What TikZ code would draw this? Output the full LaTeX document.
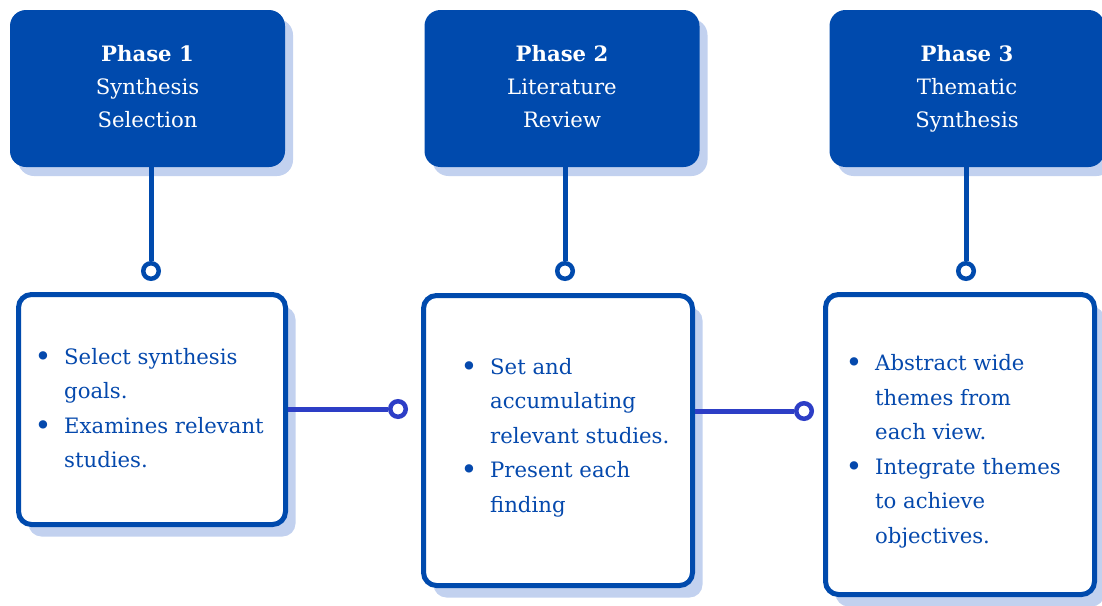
\documentclass[tikz,border=0pt]{standalone}
\usepackage{fontspec}
\setmainfont{DejaVu Serif}
\usetikzlibrary{shadows}
\definecolor{dblue}{HTML}{004AAD}
\definecolor{shblue}{HTML}{C2D1EF}
\definecolor{vblue}{HTML}{2D3EC6}
\definecolor{tblue}{HTML}{0549AD}
\newcommand{\bul}{\makebox[27pt][l]{\hspace*{-2.5pt}\raisebox{-2pt}{\scalebox{1.35}{•}}}}
\newcommand{\ind}{\hspace*{27pt}}
\begin{document}
\begin{tikzpicture}[x=1pt,y=-1pt,
  phasebox/.style={fill=dblue, rounded corners=16pt, minimum width=275pt,
    minimum height=157pt, inner sep=0pt,
    drop shadow={shadow xshift=8pt, shadow yshift=-9pt, opacity=1, fill=shblue}},
  listbox/.style={draw=dblue, line width=5pt, fill=white, rounded corners=13pt,
    inner sep=0pt,
    drop shadow={shadow xshift=10pt, shadow yshift=-12pt, opacity=1, fill=shblue}},
  phasetext/.style={anchor=base, inner sep=0pt, text=white,
    font=\fontsize{21.2}{33}\selectfont},
  listtext/.style={anchor=base west, inner sep=0pt, text=tblue,
    font=\fontsize{21.2}{34.6}\selectfont},
  link/.style={draw=dblue, line width=5pt},
  hlink/.style={draw=vblue, line width=5pt},
  dot/.style={circle, draw=dblue, fill=white, line width=4.5pt, minimum size=15.5pt, inner sep=0pt},
  hdot/.style={circle, draw=vblue, fill=white, line width=4.5pt, minimum size=15.5pt, inner sep=0pt}
]
\useasboundingbox (0,0) rectangle (1102,605);

% top phase boxes
\node[phasebox] (p1) at (147.5,88.5) {};
\node[phasebox] (p2) at (562,88.5) {};
\node[phasebox] (p3) at (967,88.5) {};

\node[phasetext] (p1t) at (147.5,61) {\begin{tabular}[t]{@{}c@{}}\textbf{Phase 1}\\Synthesis\\Selection\end{tabular}};
\node[phasetext] (p2t) at (562,61) {\begin{tabular}[t]{@{}c@{}}\textbf{Phase 2}\\Literature\\Review\end{tabular}};
\node[phasetext] (p3t) at (967,61) {\begin{tabular}[t]{@{}c@{}}\textbf{Phase 3}\\Thematic\\Synthesis\end{tabular}};

% list boxes
\node[listbox, minimum width=267pt, minimum height=230pt] (b1) at (152,409.5) {};
\node[listbox, minimum width=269pt, minimum height=290pt] (b2) at (558,440.5) {};
\node[listbox, minimum width=269pt, minimum height=300pt] (b3) at (960,444.5) {};

\node[listtext] (b1t) at (37,364) {\begin{tabular}[t]{@{}l@{}}\bul Select synthesis\\\ind goals.\\\bul Examines relevant\\\ind studies.\end{tabular}};
\node[listtext] (b2t) at (463,374) {\begin{tabular}[t]{@{}l@{}}\bul Set and\\\ind accumulating\\\ind relevant studies.\\\bul Present each\\\ind finding\end{tabular}};
\node[listtext] (b3t) at (848,370.5) {\begin{tabular}[t]{@{}l@{}}\bul Abstract wide\\\ind themes from\\\ind each view.\\\bul Integrate themes\\\ind to achieve\\\ind objectives.\end{tabular}};

% vertical connectors
\node[dot] (c1) at (151,271) {};
\node[dot] (c2) at (565,271) {};
\node[dot] (c3) at (966,271) {};
\draw[link] (c1 |- p1.south) -- (c1.north);
\draw[link] (c2 |- p2.south) -- (c2.north);
\draw[link] (c3 |- p3.south) -- (c3.north);

% horizontal connectors
\node[hdot] (h1) at (398,409) {};
\node[hdot] (h2) at (804,411) {};
\draw[hlink] (b1.east |- h1) -- (h1.west);
\draw[hlink] (b2.east |- h2) -- (h2.west);
\end{tikzpicture}
\end{document}
